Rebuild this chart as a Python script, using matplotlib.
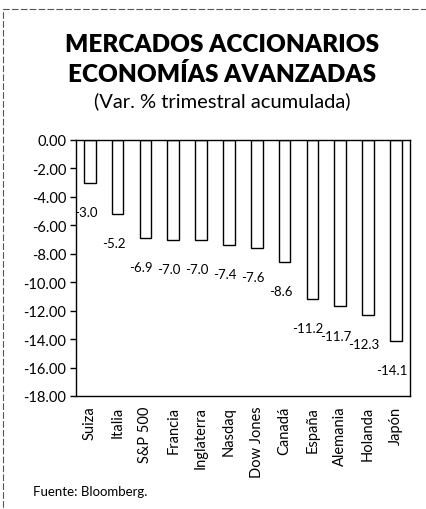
import matplotlib
matplotlib.use("Agg")
import matplotlib.pyplot as plt
from matplotlib.patches import Rectangle

categories = ["Suiza", "Italia", "S&P 500", "Francia", "Inglaterra", "Nasdaq",
              "Dow Jones", "Canadá", "España", "Alemania", "Holanda", "Japón"]
values = [-3.0, -5.2, -6.9, -7.0, -7.0, -7.4, -7.6, -8.6, -11.2, -11.7, -12.3, -14.1]
yticks = [0, -2, -4, -6, -8, -10, -12, -14, -16, -18]

plt.rcParams['font.family'] = ['Lato', 'DejaVu Sans']

fig = plt.figure(figsize=(4.26, 5.10), dpi=100)
ax = fig.add_axes([0.178, 0.2216, 0.784, 0.502])

x = list(range(len(categories)))
ax.bar(x, values, width=0.42, color='white', edgecolor='black', linewidth=1.0)

for xi, v in zip(x, values):
    ax.annotate(f"{v:.1f}", xy=(xi, v), xytext=(-3, -21), textcoords='offset points',
                ha='center', va='center', fontsize=9.5, color='black')

ax.set_xlim(-0.5, len(categories) - 0.5)
ax.set_ylim(-18, 0)
ax.set_yticks(yticks)
ax.set_yticklabels([f"{t:.2f}" for t in yticks], fontsize=10.5)
ax.set_xticks(x)
ax.set_xticklabels(categories, rotation=90, fontsize=10.5)
ax.tick_params(axis='x', length=0, pad=7)
ax.tick_params(axis='y', length=4, direction='out', width=1, pad=3)
for s in ax.spines.values():
    s.set_linewidth(1.0)
    s.set_color('black')

fig.text(0.522, 0.912, "MERCADOS ACCIONARIOS", ha='center', va='center',
         fontsize=17.5, fontweight='heavy')
fig.text(0.522, 0.853, "ECONOMÍAS AVANZADAS", ha='center', va='center',
         fontsize=17.5, fontweight='heavy')
fig.text(0.522, 0.802, "(Var. % trimestral acumulada)", ha='center', va='center',
         fontsize=14.5)
fig.text(0.077, 0.035, "Fuente: Bloomberg.", ha='left', va='center', fontsize=9.5)

fig.patches.append(Rectangle((0.007, -0.01), 1.2, 0.99, transform=fig.transFigure,
                             fill=False, edgecolor='#555555', linewidth=0.8,
                             linestyle=(0, (6, 2))))

fig.savefig("out.png", dpi=100)
